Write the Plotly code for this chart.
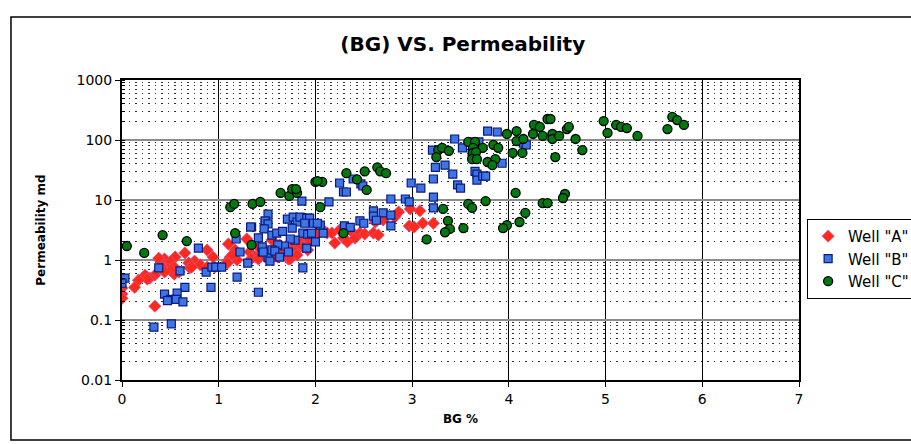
import plotly.graph_objects as go

# ---------------- data ----------------
a_bg = [1.10, 0.88, 0.65, 0.55, 0.44, 0.40, 0.94, 1.12, 0.75, 0.69, 0.81, 0.50, 0.54, 0.47, 0.70,
        0.88, 0.96, 1.09, 0.59, 0.54, 0.50, 0.34, 0.29, 0.24, 0.26, 0.17, 0.13, 0.00, 0.00, 0.00,
        0.34, 0.38, 0.72, 0.41, 0.44,
        1.17, 1.12, 1.19, 1.29, 1.32, 1.38, 1.34, 1.41, 1.48, 1.51, 1.55, 1.56, 1.61, 1.66, 1.72,
        1.76, 1.81, 1.81, 1.86, 1.87, 1.94, 2.00, 2.03, 2.08, 2.12, 2.17, 2.20, 2.25, 2.29, 1.74,
        1.81, 1.92, 1.69, 1.63, 1.55, 1.48, 1.41, 1.14, 1.09,
        2.33, 2.39, 2.41, 2.46, 2.51, 2.60, 2.65, 2.62, 2.70, 2.82, 2.86, 2.98, 3.08, 2.97, 3.02,
        3.11, 3.22]
a_perm = [1.85, 1.47, 1.31, 1.12, 1.04, 0.96, 1.12, 1.07, 0.96, 0.89, 0.83, 0.93, 0.76, 0.71, 0.74,
          0.76, 0.76, 0.96, 0.63, 0.58, 0.68, 0.56, 0.50, 0.56, 0.48, 0.46, 0.35, 0.34, 0.27, 0.23,
          0.17, 1.07, 0.76, 0.76, 0.63,
          1.47, 1.12, 1.00, 2.24, 1.36, 1.12, 1.07, 1.04, 1.12, 1.21, 2.15, 1.36, 1.12, 1.31, 1.04,
          1.65, 1.92, 1.47, 2.00, 1.65, 2.15, 2.61, 2.82, 3.16, 2.82, 2.82, 1.92, 3.16, 2.33, 1.04,
          1.21, 1.47, 1.65, 1.78, 1.07, 1.47, 1.65, 1.21, 0.89,
          2.00, 2.82, 2.33, 2.82, 2.71, 2.82, 2.61, 4.30, 4.64, 5.20, 6.30, 7.10, 6.60, 3.70, 3.55,
          4.10, 4.10]

b_bg = [0.79, 0.38, 0.60, 0.87, 0.93, 0.97, 1.03, 0.03, 0.00, 0.65, 0.92, 0.44, 0.57, 0.50, 0.47,
        0.56, 0.63, 0.33, 0.51, 1.19, 1.41, 1.34, 1.48, 1.18, 1.22, 1.30, 1.41, 1.45, 1.51,
        1.86, 2.14, 1.51, 1.48, 1.51, 1.71, 1.77, 1.81, 1.84, 1.91, 1.94, 1.89, 1.98, 2.05, 2.02,
        1.33, 1.47, 1.55, 1.60, 1.66, 1.76, 1.87, 1.92, 1.96, 2.00, 2.08, 1.79, 1.74, 1.68, 1.61,
        1.55, 1.45, 1.46, 1.58, 1.72, 1.91, 1.63, 1.53, 1.87, 2.25, 2.29, 2.30,
        2.32, 2.39, 2.47, 2.49, 2.99, 3.09, 3.22, 2.78, 2.93, 2.97, 3.22, 3.22, 2.60, 2.70, 2.78,
        2.60, 2.63, 2.46, 2.50, 2.78, 2.36, 3.21, 3.34, 3.24, 3.42, 3.47, 3.50,
        3.44, 3.52, 3.69, 3.63, 3.78, 3.88, 3.93, 4.15, 4.18, 3.65, 3.67, 3.67, 3.73, 3.76, 3.62]
b_perm = [1.58, 0.74, 0.66, 0.63, 0.76, 0.76, 0.76, 0.50, 0.41, 0.35, 0.35, 0.27, 0.28, 0.22, 0.21,
          0.22, 0.20, 0.076, 0.086, 0.52, 0.29, 3.55, 4.30, 2.24, 1.36, 0.89, 2.33, 1.36, 1.12,
          9.6, 9.3, 5.8, 4.5, 4.0, 4.8, 5.2, 4.3, 5.2, 5.0, 5.0, 4.1, 4.1, 3.8, 4.1,
          3.55, 3.3, 2.6, 2.8, 3.0, 3.4, 2.8, 2.7, 2.8, 2.0, 2.8, 2.15, 2.24, 1.71, 1.78,
          1.47, 1.65, 1.36, 1.41, 1.36, 1.58, 1.12, 0.96, 0.74, 19.2, 13.6, 3.7,
          13.6, 22.4, 18.5, 17.1, 19.2, 15.8, 22.4, 10.4, 10.4, 9.3, 7.4, 11.2, 6.6, 6.1, 5.6,
          5.4, 4.6, 4.5, 4.1, 3.7, 3.5, 68, 38, 35, 27, 17.8, 15.8,
          104, 74, 93, 93, 141, 136, 41, 89, 83, 30, 27, 21.5, 25, 25, 61]

c_bg = [0.05, 0.23, 0.42, 0.67, 1.17, 1.34,
        1.12, 1.16, 1.35, 1.43, 1.64, 1.73, 1.76, 1.81, 1.80, 2.05, 2.29, 2.00, 2.07,
        2.32, 2.51, 2.64, 2.67, 2.73, 2.02, 2.43, 2.53,
        3.27, 3.31, 3.38, 3.25, 3.32, 3.37, 3.39, 3.34, 3.15,
        3.58, 3.65, 3.63, 3.73, 3.84, 3.89, 3.63, 3.66, 3.62, 3.67, 3.78, 3.86, 3.83,
        3.98, 4.08, 4.08, 4.15, 4.04, 4.14, 4.26, 4.32, 4.25, 4.35, 4.40, 4.43, 4.45, 4.45,
        4.52, 4.60, 4.62, 4.69, 4.76, 4.48, 4.98, 5.11, 5.16, 5.22, 5.02, 5.33,
        3.76, 4.07, 4.58, 4.56, 4.35, 4.40, 3.58, 3.62, 3.53, 4.17, 4.11, 3.98, 3.94,
        5.64, 5.69, 5.74, 5.81]
c_perm = [1.71, 1.31, 2.6, 2.07, 2.8, 1.78,
          7.6, 8.6, 8.6, 9.3, 13.1, 11.7, 15.2, 13.1, 15.2, 7.6, 2.8, 20, 20,
          28, 30, 35, 30, 28, 20.7, 22, 14.7,
          68, 74, 66, 52, 7.1, 4.5, 3.3, 2.9, 2.2,
          93, 93, 74, 74, 83, 74, 61, 63, 48, 48, 43, 48, 38,
          126, 141, 96, 104, 61, 61, 178, 165, 126, 117, 224, 224, 126, 104,
          117, 152, 165, 104, 68, 52, 207, 178, 165, 158, 131, 117,
          9.6, 13.1, 12.6, 10.8, 8.9, 8.9, 8.6, 7.4, 3.4, 6.1, 4.3, 3.8, 3.4,
          152, 242, 215, 178]

series_names = ['Well "A"', 'Well "B"', 'Well "C"']
y_tick_vals = [0.01, 0.1, 1, 10, 100, 1000]
y_tick_text = ["0.01", "0.1", "1", "10", "100", "1000"]
x_tick_vals = [0, 1, 2, 3, 4, 5, 6, 7]

FONT = "DejaVu Sans, Arial, sans-serif"

fig = go.Figure()
fig.add_trace(go.Scatter(x=a_bg, y=a_perm, mode="markers", name=series_names[0],
                         marker=dict(symbol="diamond", size=9.5, color="#FF2A1A",
                                     line=dict(color="#C060C0", width=0.6))))
fig.add_trace(go.Scatter(x=b_bg, y=b_perm, mode="markers", name=series_names[1],
                         marker=dict(symbol="square", size=8, color="#3F74E4",
                                     line=dict(color="#0A1A80", width=1.2))))
fig.add_trace(go.Scatter(x=c_bg, y=c_perm, mode="markers", name=series_names[2],
                         marker=dict(symbol="circle", size=9, color="#007A10",
                                     line=dict(color="black", width=1.3))))

fig.update_layout(
    width=911, height=444,
    margin=dict(l=122, r=112, t=80, b=64, autoexpand=False),
    paper_bgcolor="white", plot_bgcolor="white",
    font=dict(family=FONT, color="black", size=14),
    title=dict(text="<b>(BG) VS. Permeability</b>", x=0.508, xanchor="center",
               y=0.90, yanchor="middle", font=dict(size=20, family=FONT)),
    showlegend=True,
    legend=dict(x=1.012, y=0.537, xanchor="left", yanchor="top",
                bgcolor="white", bordercolor="black", borderwidth=1,
                font=dict(size=15, family=FONT), itemsizing="trace",
                tracegroupgap=0, itemwidth=30),
    shapes=[dict(type="rect", xref="paper", yref="paper",
                 x0=-0.164, x1=1.2, y0=-0.2, y1=1.21,
                 line=dict(color="black", width=1.5), layer="below")],
)

fig.update_xaxes(range=[0, 7], tickvals=x_tick_vals, ticks="outside", ticklen=5,
                 tickcolor="black", showline=True, linecolor="black", linewidth=2,
                 mirror=True, showgrid=True, gridcolor="black", gridwidth=1,
                 zeroline=False, tickfont=dict(size=14),
                 title=dict(text="<b>BG %</b>", font=dict(size=12), standoff=9))

fig.update_yaxes(type="log", range=[-2, 3], tickvals=y_tick_vals, ticktext=y_tick_text,
                 ticks="outside", ticklen=5, tickcolor="black",
                 showline=True, linecolor="black", linewidth=2, mirror=True,
                 showgrid=True, gridcolor="#8c8c8c", gridwidth=2, zeroline=False,
                 tickfont=dict(size=14),
                 minor=dict(dtick="D1", showgrid=True, gridcolor="#303030", gridwidth=1,
                            griddash="1.5px,5px", ticks="inside", ticklen=3,
                            tickcolor="black"),
                 title=dict(text="<b>Permeability md</b>", font=dict(size=12), standoff=28))

fig.write_html("out.html")
